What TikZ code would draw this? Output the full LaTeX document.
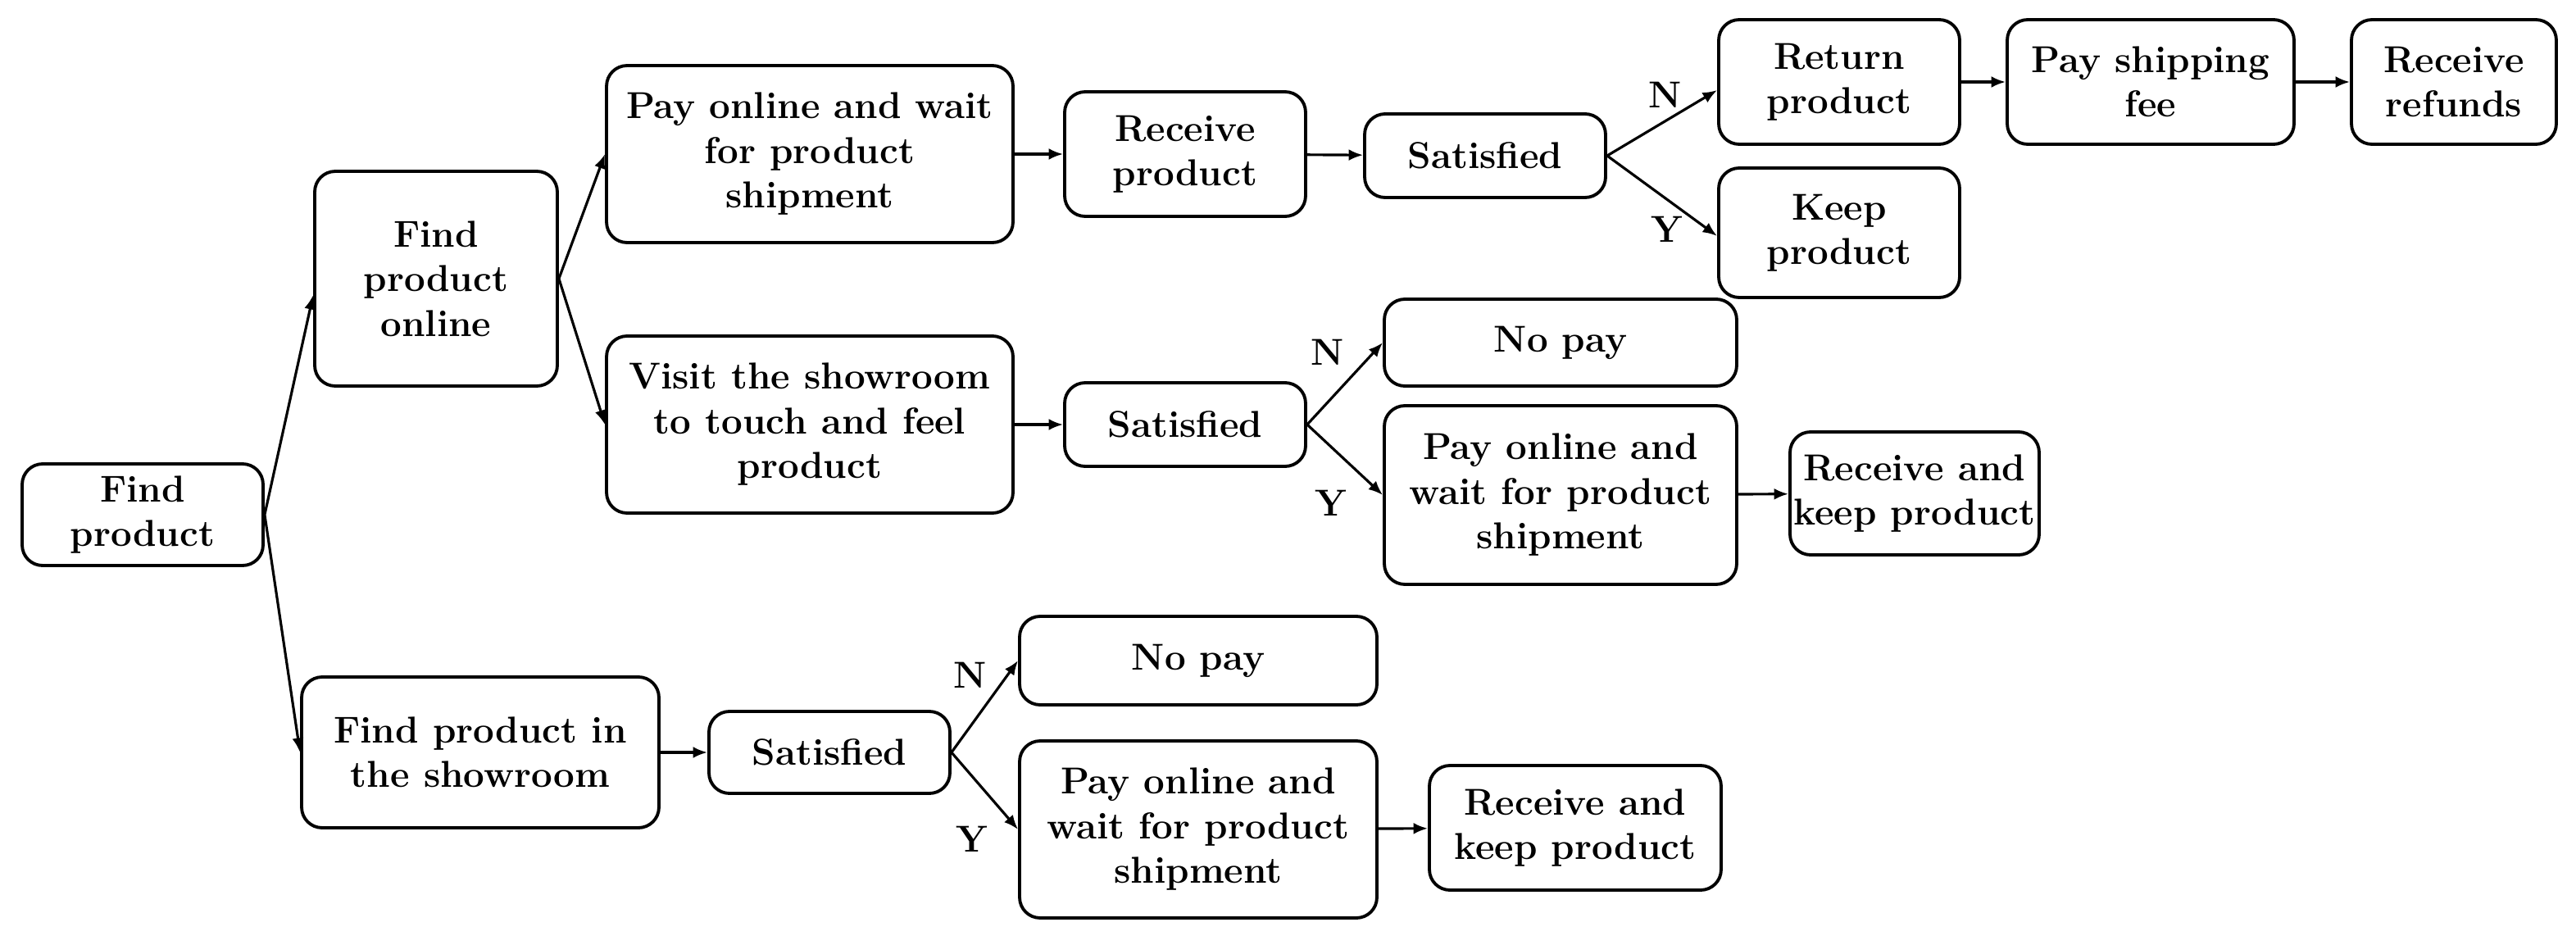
\documentclass[tikz,border=0pt]{standalone}
\usetikzlibrary{arrows.meta}
\begin{document}
\begin{tikzpicture}[x=0.02cm,y=-0.02cm,
  box/.style={draw,line width=1.1pt,rounded corners=0.25cm,align=center,font=\fontsize{13}{15.5}\selectfont\bfseries,inner sep=1pt},
  arr/.style={-{Latex[length=5pt,width=4pt]},line width=0.9pt},
  lab/.style={font=\fontsize{13}{15}\selectfont\bfseries}]
\useasboundingbox (0,0) rectangle (1571.5,576.5);
\node[box,minimum width=2.94cm,minimum height=1.24cm] (fp) at (87,314) {Find\\product};
\node[box,minimum width=2.96cm,minimum height=2.62cm] (fo) at (266,170) {Find\\product\\online};
\node[box,minimum width=4.36cm,minimum height=1.84cm] (fs) at (293,459) {Find product in\\the showroom};
\node[box,minimum width=4.96cm,minimum height=2.16cm] (p1) at (494,94) {Pay online and wait\\for product\\shipment};
\node[box,minimum width=2.94cm,minimum height=1.52cm] (r1) at (723,94) {Receive\\product};
\node[box,minimum width=2.94cm,minimum height=1.02cm] (s1) at (906,95) {Satisfied};
\node[box,minimum width=2.94cm,minimum height=1.52cm] (rp) at (1122,50) {Return\\product};
\node[box,minimum width=3.5cm,minimum height=1.52cm] (ps) at (1312,50) {Pay shipping\\fee};
\node[box,minimum width=2.5cm,minimum height=1.52cm] (rr) at (1497,50) {Receive\\refunds};
\node[box,minimum width=2.94cm,minimum height=1.58cm] (kp) at (1122,142) {Keep\\product};
\node[box,minimum width=4.96cm,minimum height=2.16cm] (vs) at (494,259) {Visit the showroom\\to touch and feel\\product};
\node[box,minimum width=2.94cm,minimum height=1.02cm] (s2) at (723,259) {Satisfied};
\node[box,minimum width=4.3cm,minimum height=1.06cm] (n2) at (952,209) {No pay};
\node[box,minimum width=4.3cm,minimum height=2.18cm] (p2) at (952,302) {Pay online and\\wait for product\\shipment};
\node[box,minimum width=3.04cm,minimum height=1.5cm] (k2) at (1168,301) {Receive and\\keep product};
\node[box,minimum width=2.94cm,minimum height=1.0cm] (s3) at (506,459) {Satisfied};
\node[box,minimum width=4.36cm,minimum height=1.08cm] (n3) at (731,403) {No pay};
\node[box,minimum width=4.36cm,minimum height=2.16cm] (p3) at (731,506) {Pay online and\\wait for product\\shipment};
\node[box,minimum width=3.56cm,minimum height=1.52cm] (k3) at (961,505) {Receive and\\keep product};
\draw[arr] (fp.east) -- ([yshift=-0.2cm]fo.west);
\draw[arr] (fp.east) -- (fs.west);
\draw[arr] (fo.east) -- (p1.west);
\draw[arr] (fo.east) -- (vs.west);
\draw[arr] (p1) -- (r1);
\draw[arr] (r1) -- (s1);
\draw[arr] (s1.east) -- ([yshift=-0.1cm]rp.west);
\draw[arr] (s1.east) -- ([yshift=-0.04cm]kp.west);
\draw[arr] (rp) -- (ps);
\draw[arr] (ps) -- (rr);
\draw[arr] (vs) -- (s2);
\draw[arr] (s2.east) -- (n2.west);
\draw[arr] (s2.east) -- (p2.west);
\draw[arr] (p2) -- (k2);
\draw[arr] (fs) -- (s3);
\draw[arr] (s3.east) -- (n3.west);
\draw[arr] (s3.east) -- (p3.west);
\draw[arr] (p3) -- (k3);
\node[lab] (l1) at (1016,58) {N};
\node[lab] (l2) at (1017,140) {Y};
\node[lab] (l3) at (810,215) {N};
\node[lab] (l4) at (812,307) {Y};
\node[lab] (l5) at (592,412) {N};
\node[lab] (l6) at (593,512) {Y};
\end{tikzpicture}
\end{document}
